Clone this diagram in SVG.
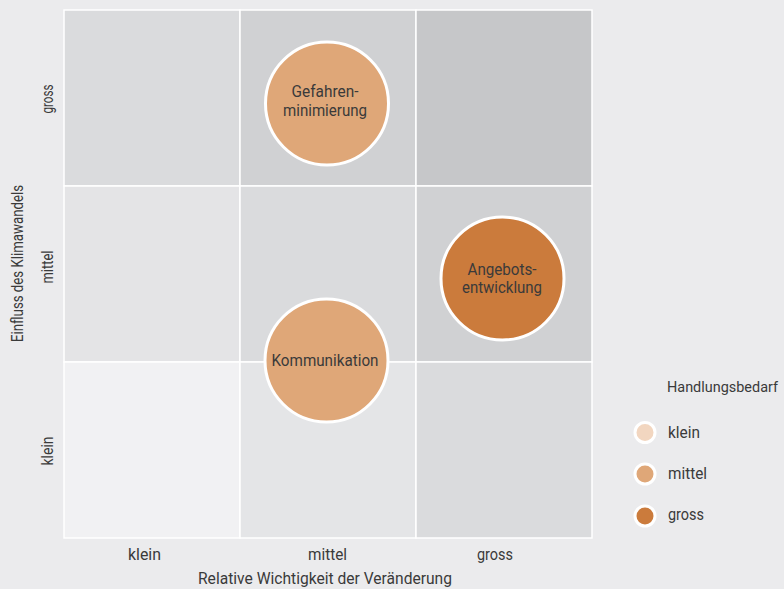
<svg xmlns="http://www.w3.org/2000/svg" width="784" height="589" viewBox="0 0 784 589">
<style>
text{font-family:"Roboto","Liberation Sans",sans-serif;font-size:16px;fill:#3a3a3a;}
.c{text-anchor:middle;}
.cell{stroke:#ffffff;stroke-width:1.5;}
.b{stroke:#ffffff;stroke-width:3;}
.m{fill:#dfa778;}
.g{fill:#cb7b3c;}
.k{fill:#f2d6c0;}
</style>
<rect width="784" height="589" fill="#ebebed"/>
<g id="grid">
<rect class="cell" x="64" y="10" width="176" height="176" fill="#dadbdd"/>
<rect class="cell" x="240" y="10" width="176" height="176" fill="#d0d1d3"/>
<rect class="cell" x="416" y="10" width="176" height="176" fill="#c6c7c9"/>
<rect class="cell" x="64" y="186" width="176" height="176" fill="#e4e4e6"/>
<rect class="cell" x="240" y="186" width="176" height="176" fill="#dadbdd"/>
<rect class="cell" x="416" y="186" width="176" height="176" fill="#d0d1d3"/>
<rect class="cell" x="64" y="362" width="176" height="176" fill="#f1f1f3"/>
<rect class="cell" x="240" y="362" width="176" height="176" fill="#e4e5e7"/>
<rect class="cell" x="416" y="362" width="176" height="176" fill="#dadbdd"/>
</g>
<g id="node-gefahren">
<circle class="b m" cx="327" cy="103.5" r="61.5"/>
<text class="c" x="325" y="97" textLength="67" lengthAdjust="spacingAndGlyphs">Gefahren-</text>
<text class="c" x="325" y="115.5" textLength="84" lengthAdjust="spacingAndGlyphs">minimierung</text>
</g>
<g id="node-angebot">
<circle class="b g" cx="502.5" cy="278.5" r="61.5"/>
<text class="c" x="502" y="274.5" textLength="69" lengthAdjust="spacingAndGlyphs">Angebots-</text>
<text class="c" x="502" y="293" textLength="80" lengthAdjust="spacingAndGlyphs">entwicklung</text>
</g>
<g id="node-kommunikation">
<circle class="b m" cx="326.5" cy="360.5" r="61.5"/>
<text class="c" x="325" y="366" textLength="107" lengthAdjust="spacingAndGlyphs">Kommunikation</text>
</g>
<g id="axes">
<text class="c" x="144.5" y="560" textLength="33" lengthAdjust="spacingAndGlyphs">klein</text>
<text class="c" x="327.5" y="560" textLength="39" lengthAdjust="spacingAndGlyphs">mittel</text>
<text class="c" x="495" y="560" textLength="36" lengthAdjust="spacingAndGlyphs">gross</text>
<text class="c" x="325" y="583.5" textLength="254" lengthAdjust="spacingAndGlyphs">Relative Wichtigkeit der Veränderung</text>
<text class="c" transform="translate(52.5,99) rotate(-90)" textLength="29" lengthAdjust="spacingAndGlyphs">gross</text>
<text class="c" transform="translate(52.5,267) rotate(-90)" textLength="33" lengthAdjust="spacingAndGlyphs">mittel</text>
<text class="c" transform="translate(52.5,451) rotate(-90)" textLength="29" lengthAdjust="spacingAndGlyphs">klein</text>
<text class="c" transform="translate(22.5,263.5) rotate(-90)" textLength="157" lengthAdjust="spacingAndGlyphs">Einfluss des Klimawandels</text>
</g>
<g id="legend">
<text x="667" y="392" style="font-size:14.5px" textLength="111" lengthAdjust="spacingAndGlyphs">Handlungsbedarf</text>
<circle class="b k" cx="645" cy="432.5" r="10"/>
<text x="668" y="438" textLength="32" lengthAdjust="spacingAndGlyphs">klein</text>
<circle class="b m" cx="645" cy="474" r="10"/>
<text x="668" y="479" textLength="39" lengthAdjust="spacingAndGlyphs">mittel</text>
<circle class="b g" cx="645" cy="516" r="10"/>
<text x="668" y="520" textLength="36" lengthAdjust="spacingAndGlyphs">gross</text>
</g>
</svg>
